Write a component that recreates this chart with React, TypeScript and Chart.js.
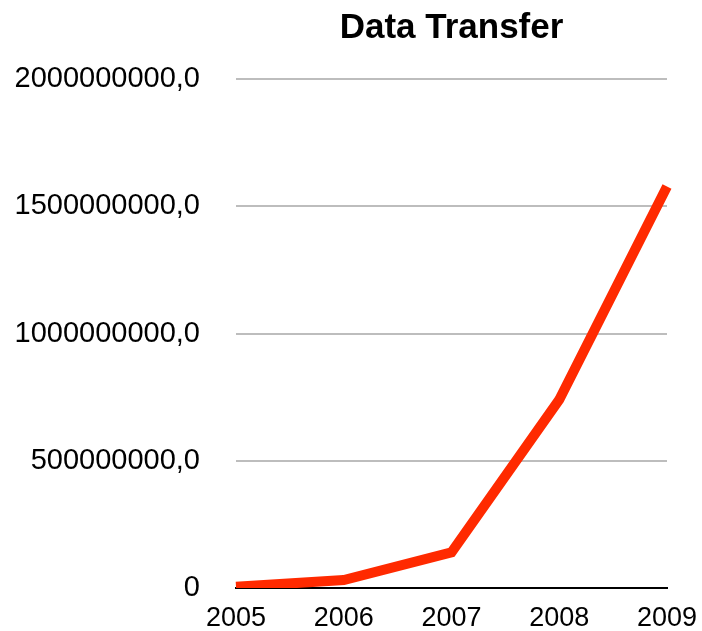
import React, { useEffect, useRef } from "react";
import { Chart, registerables } from "chart.js";

Chart.register(...registerables);

const years = ["2005", "2006", "2007", "2008", "2009"];
const transfer = [5000000, 31000000, 140000000, 740000000, 1578000000];
const yTicks = [0, 500000000, 1000000000, 1500000000, 2000000000];
const chartTitle = "Data Transfer";

const FONT = "'Liberation Sans', Arial, Helvetica, sans-serif";

export default function App() {
  const ref = useRef<HTMLCanvasElement | null>(null);

  useEffect(() => {
    if (!ref.current) return;
    const chart = new Chart(ref.current, {
      type: "line",
      data: {
        labels: years,
        datasets: [
          {
            label: chartTitle,
            data: transfer,
            borderColor: "#ff2a00",
            backgroundColor: "#ff2a00",
            borderWidth: 10,
            pointRadius: 0,
            pointHoverRadius: 0,
            tension: 0,
            borderCapStyle: "butt",
            borderJoinStyle: "miter",
            fill: false,
          },
        ],
      },
      options: {
        responsive: false,
        animation: false,
        events: [],
        layout: { padding: { left: 0, right: 35, top: 0, bottom: 0 } },
        plugins: {
          legend: { display: false },
          tooltip: { enabled: false },
          title: {
            display: true,
            text: chartTitle,
            fullSize: false,
            color: "#000",
            font: { family: FONT, size: 35, weight: "bold", lineHeight: 1.2 },
            padding: { top: 7.5, bottom: 29.5 },
          },
        },
        scales: {
          x: {
            type: "category",
            offset: false,
            grid: { display: false, drawTicks: false },
            border: { display: true, color: "#000", width: 2 },
            ticks: {
              color: "#000",
              font: { family: FONT, size: 27 },
              padding: 14,
              maxRotation: 0,
              autoSkip: false,
            },
            afterFit: (scale: any) => {
              scale.height = 43;
              scale.paddingLeft = 0;
              scale.paddingRight = 0;
            },
          },
          y: {
            min: 0,
            max: 2000000000,
            afterBuildTicks: (scale: any) => {
              scale.ticks = yTicks.map((v) => ({ value: v }));
            },
            grid: {
              color: "#bdbdbd",
              lineWidth: 2,
              drawTicks: false,
            },
            border: { display: false },
            ticks: {
              color: "#000",
              font: { family: FONT, size: 29 },
              padding: 36,
              callback: (v: any) =>
                Number(v) === 0 ? "0" : Number(v).toFixed(1).replace(".", ","),
            },
            afterFit: (scale: any) => {
              scale.width = 236;
              scale.paddingTop = 0;
              scale.paddingBottom = 0;
            },
          },
        },
      },
    });
    return () => chart.destroy();
  }, []);

  return (
    <div
      style={{
        position: "fixed",
        left: 0,
        top: 0,
        width: 702,
        height: 631,
        background: "#fff",
      }}
    >
      <canvas ref={ref} width={702} height={631} style={{ width: 702, height: 631 }} />
    </div>
  );
}
